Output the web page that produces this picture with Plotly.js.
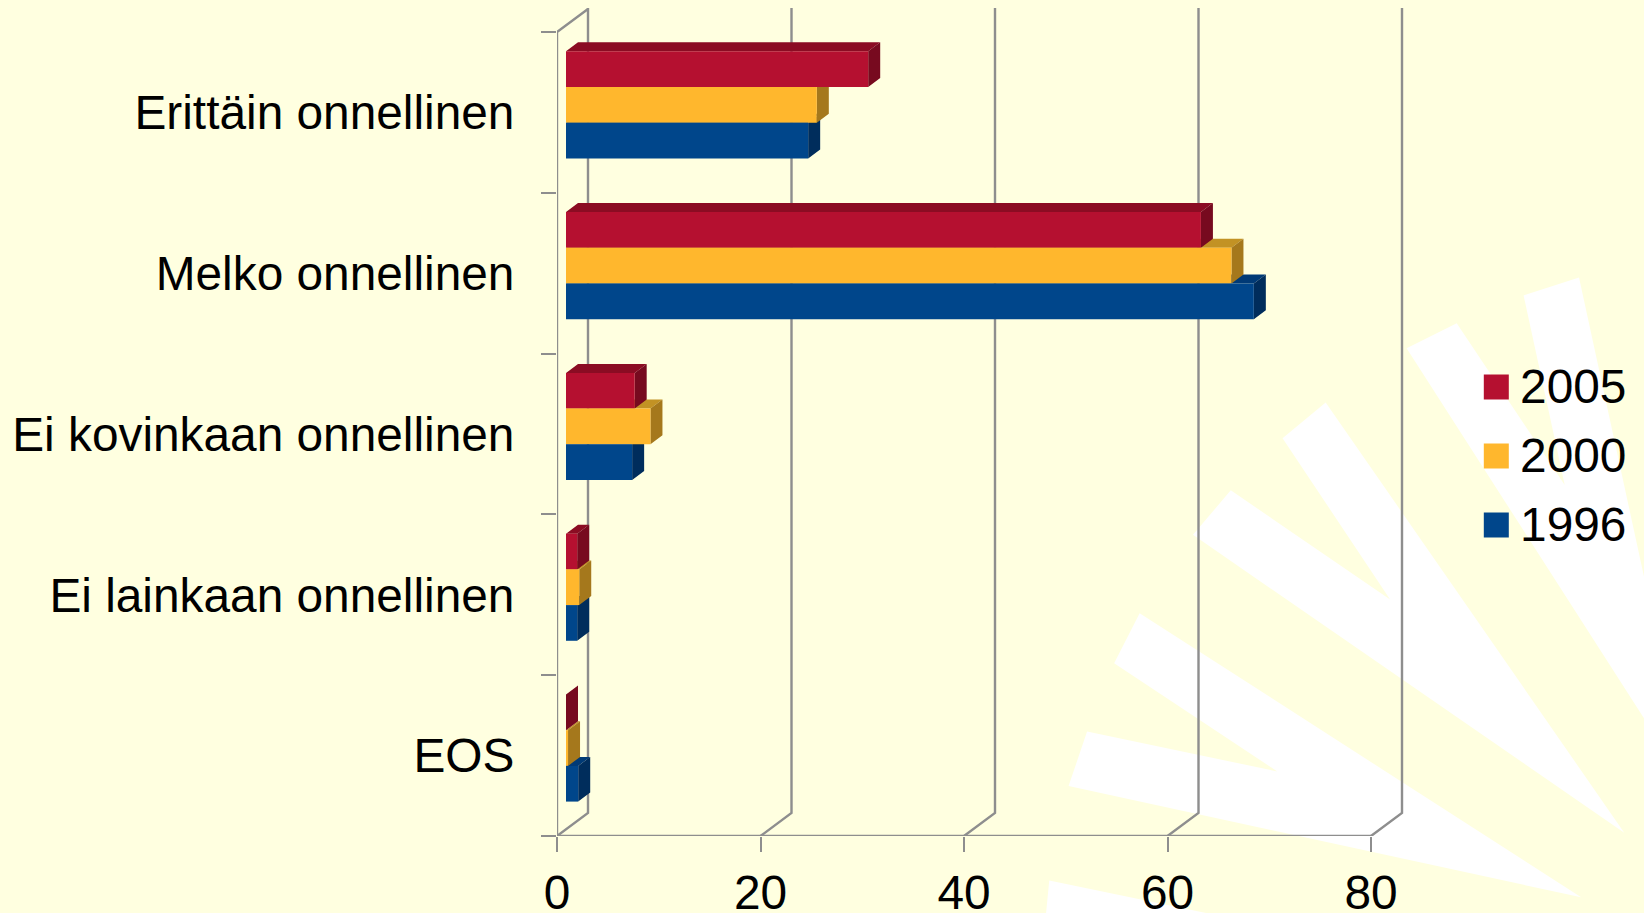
<!DOCTYPE html>
<html><head><meta charset="utf-8">
<script src="https://cdn.plot.ly/plotly-3.0.1.min.js"></script>
<style>html,body{margin:0;padding:0;background:#FFFFE0}#c{width:1644px;height:913px}</style>
</head><body><div id="c"></div>
<script>
const categories = ["Erittäin onnellinen","Melko onnellinen","Ei kovinkaan onnellinen","Ei lainkaan onnellinen","EOS"];
const v2005 = [29.7,62.4,6.75,1.1,0];
const v2000 = [24.65,65.4,8.3,1.3,0.2];
const v1996 = [23.8,67.6,6.5,1.1,1.2];
const xTicks = [0,20,40,60,80];

const FONT = '"Liberation Sans", Arial, sans-serif';
const L=557, R=1430, B=836, T=8;
const PXX=10.175, PXY=160.8;
const xMax=(R-L)/PXX, yMax=(B-T)/PXY;
const wallDX=31/PXX, wallDY=23/PXY, wallTop=yMax;
const barBase=9/PXX, barDX=12/PXX, barDY=9/PXY, barH=35.7/PXY, barMid=0.547;
const GRID='#8E8E8E';

const series=[
 {name:'1996',vals:v1996,off:-barH,front:'#00468B',top:'#003A76',side:'#002D5C'},
 {name:'2000',vals:v2000,off:0,front:'#FFB72D',top:'#C29224',side:'#A5781C'},
 {name:'2005',vals:v2005,off:barH,front:'#B51030',top:'#8B0C23',side:'#770A1F'}
];
const pos=i=>categories.length-1-i;

// walls and floor
const gx=[],gy=[];
xTicks.forEach(t=>{
  gx.push(t,t+wallDX,t+wallDX,null);
  gy.push(0,wallDY,wallTop,null);
});
gx.push(0,0,wallDX,null,0,xTicks[xTicks.length-1]);
gy.push(0,categories.length,categories.length+wallDY,null,0,0);
const traces=[{type:'scatter',mode:'lines',x:gx,y:gy,line:{color:GRID,width:2.4},cliponaxis:false,showlegend:false,hoverinfo:'skip',xaxis:'x',yaxis:'y'}];

// depth faces, bottom series first
series.forEach(s=>{
  const tx=[],ty=[],sx=[],sy=[];
  s.vals.forEach((v,i)=>{
    const yc=pos(i)+barMid+s.off, y0=yc-barH/2, y1=yc+barH/2, e=barBase+v;
    tx.push(barBase,barBase+barDX,e+barDX,e,barBase,null);
    ty.push(y1,y1+barDY,y1+barDY,y1,y1,null);
    sx.push(e,e+barDX,e+barDX,e,e,null);
    sy.push(y0,y0+barDY,y1+barDY,y1,y0,null);
  });
  traces.push({type:'scatter',mode:'lines',x:tx,y:ty,fill:'toself',fillcolor:s.top,line:{width:0},showlegend:false,hoverinfo:'skip',xaxis:'x',yaxis:'y'});
  traces.push({type:'scatter',mode:'lines',x:sx,y:sy,fill:'toself',fillcolor:s.side,line:{width:0},showlegend:false,hoverinfo:'skip',xaxis:'x',yaxis:'y'});
});

// front faces, in legend order
[series[2],series[1],series[0]].forEach(s=>{
  traces.push({type:'bar',orientation:'h',name:s.name,x:s.vals,base:barBase,
    y:s.vals.map((v,i)=>pos(i)+barMid+s.off),width:barH,
    marker:{color:s.front,line:{width:0}},xaxis:'x2',yaxis:'y2'});
});

// background rays, in page pixels
const zx=X=>1000+X/2.435, zy=Y=>260+Y/2.401;
const rays=[
 [[1410,42],[1568,760],[1568,1100],[990,212],[1112,152],[1375,540],[1275,85]],
 [[793,342],[1520,1375],[470,660],[562,553],[950,815],[688,428]],
 [[340,848],[1415,1530],[167,1263],[212,1132],[675,1228],[278,968]],
 [[120,1490],[610,1590],[110,1590]]
];
const shapes=rays.map(r=>({type:'path',xref:'paper',yref:'paper',layer:'below',fillcolor:'#FFFFFF',line:{width:0},
  path:'M'+r.map(p=>((zx(p[0])-L)/(R-L)).toFixed(4)+','+((B-zy(p[1]))/(B-T)).toFixed(4)).join('L')+'Z'}));

const layout={
  width:1644,height:913,
  paper_bgcolor:'#FFFFE0',plot_bgcolor:'rgba(0,0,0,0)',
  margin:{l:L,r:1644-R,t:T,b:913-B,pad:0,autoexpand:false},
  barmode:'overlay',
  font:{family:FONT,size:47.8,color:'#000'},
  shapes,
  xaxis:{range:[0,xMax],tickmode:'array',tickvals:xTicks,ticktext:xTicks.map(String),ticks:'outside',ticklen:15,tickwidth:2.4,tickcolor:GRID,showgrid:false,zeroline:false,showline:false,tickfont:{size:47.8,family:FONT,color:'#000'}},
  yaxis:{range:[0,yMax],tickmode:'array',tickvals:categories.map((c,i)=>pos(i)+0.5),ticktext:categories,ticks:'outside',ticklen:32,tickwidth:0,tickcolor:'rgba(0,0,0,0)',showgrid:false,zeroline:false,showline:false,tickfont:{size:47.8,family:FONT,color:'#000'},
    minor:{tickmode:'array',tickvals:[0,1,2,3,4,5],ticks:'outside',ticklen:15,tickwidth:2.4,tickcolor:GRID,showgrid:false}},
  xaxis2:{range:[0,xMax],overlaying:'x',visible:false,anchor:'y2'},
  yaxis2:{range:[0,yMax],overlaying:'y',visible:false,anchor:'x2'},
  legend:{x:(1480.1-L)/(R-L),xanchor:'left',y:(B-355)/(B-T),yanchor:'top',bgcolor:'rgba(0,0,0,0)',borderwidth:0,traceorder:'normal',font:{size:47.8,family:FONT,color:'#000'},itemwidth:30,itemclick:false,itemdoubleclick:false}
};
Plotly.newPlot('c',traces,layout,{displayModeBar:false,responsive:false}).then(gd=>{
  const items=[...gd.querySelectorAll('.legend .traces')];
  const sb=gd.querySelector('.legend .scrollbox');
  if(sb) sb.removeAttribute('clip-path');
  items.forEach((g,i)=>{
    g.setAttribute('transform','translate(0,'+(29.5+i*69)+')');
    const p=g.querySelector('.legendpoints path');
    if(p){p.setAttribute('d','M12.5,12.5H-12.5V-12.5H12.5Z');p.setAttribute('transform','translate(16.2,2.5)');}
  });
});
</script></body></html>
